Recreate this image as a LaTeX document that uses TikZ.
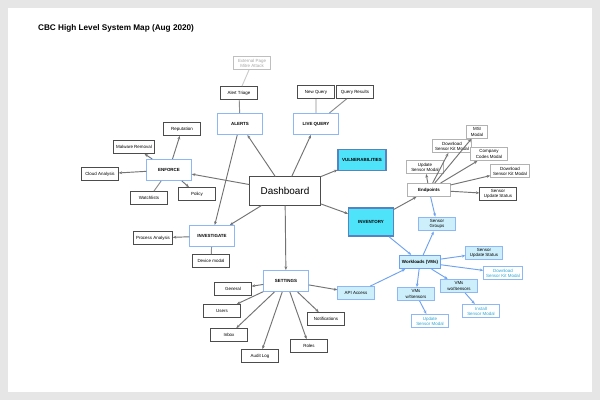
\documentclass[tikz,border=0pt]{standalone}
\usepackage{fontspec}
\setmainfont{Liberation Sans}
\usetikzlibrary{arrows.meta}
\definecolor{frame}{HTML}{E6E6E6}
\definecolor{pale}{HTML}{8EB8F5}
\definecolor{aqua}{HTML}{4FE3FA}
\definecolor{iceblue}{HTML}{CDEFFB}
\definecolor{linkblue}{HTML}{6FA3F0}
\definecolor{textcyan}{HTML}{2CA6D6}
\begin{document}
\begin{tikzpicture}[x=0.3mm,y=-0.3mm,>={Stealth[length=3pt,width=2.4pt]}]
        \tikzstyle{leaf}=[draw=black!70,fill=white,thick,font=\fontsize{3.8}{4.4}\selectfont,align=center,minimum width=31pt,minimum height=11pt,inner sep=2pt]
        \tikzstyle{faded}=[leaf,draw=black!25,text=black!35]
        \tikzstyle{soft}=[leaf,draw=black!30]
        \tikzstyle{section}=[draw=pale,fill=white,thick,font=\fontsize{3.8}{4.5}\selectfont\bfseries,minimum width=38pt,minimum height=18pt]
        \tikzstyle{hot}=[section,draw=linkblue!80!black,fill=aqua,very thick]
        \tikzstyle{ice}=[leaf,draw=pale,fill=iceblue]
        \tikzstyle{cyanleaf}=[leaf,draw=pale,text=textcyan]
        \tikzstyle{edge}=[draw,->,black!55,thick]
        \tikzstyle{blueedge}=[draw,->,linkblue,thick]
        \useasboundingbox (0,0) rectangle (600,400);
        \fill[frame] (0,0) rectangle (600,400);
        \fill[white] (8,8) rectangle (592,392);
        \node[anchor=west,font=\fontsize{7}{8}\selectfont\bfseries] (title) at (34,28) {CBC High Level System Map (Aug 2020)};
        % top branches
        \node [faded] (mitre) at (252,63) {External Page\\Mitre Attack};
        \node [leaf] (triage) at (239,93) {Alert Triage};
        \node [section] (alerts) at (240,124) {ALERTS};
        \node [leaf] (newq) at (316,92) {New Query};
        \node [leaf] (qres) at (355,92) {Query Results};
        \node [section] (liveq) at (316,124) {LIVE QUERY};
        \node [hot] (vuln) at (362,160) {VULNERABILITIES};
        % enforce
        \node [leaf] (reput) at (182,129) {Reputation};
        \node [leaf] (malware) at (134,147) {Malware Removal};
        \node [leaf] (cloud) at (100,174) {Cloud Analysis};
        \node [section] (enforce) at (169,170) {ENFORCE};
        \node [leaf] (watch) at (149,198) {Watchlists};
        \node [leaf] (policy) at (197,194) {Policy};
        \node [draw=black!70,thick,fill=white,font=\fontsize{8.5}{10}\selectfont,minimum width=60pt,minimum height=24pt] (dash) at (285,191) {Dashboard};
        % investigate
        \node [section] (invest) at (212,236) {INVESTIGATE};
        \node [leaf] (process) at (153,238) {Process Analysis};
        \node [leaf] (device) at (211,261) {Device modal};
        % settings
        \node [section] (settings) at (286,281) {SETTINGS};
        \node [leaf] (general) at (233,289) {General};
        \node [leaf] (users) at (222,311) {Users};
        \node [leaf] (inbox) at (229,335) {Inbox};
        \node [leaf] (audit) at (260,356) {Audit Log};
        \node [leaf] (roles) at (309,346) {Roles};
        \node [leaf] (notif) at (326,319) {Notifications};
        \node [ice] (api) at (356,293) {API Access};
        % inventory
        \node [hot,minimum height=24pt] (invent) at (371,222) {INVENTORY};
        \node [soft,font=\fontsize{3.8}{4.5}\selectfont\bfseries,minimum width=36pt] (endp) at (429,190) {Endpoints};
        \node [soft] (updmod) at (425,167) {Update\\Sensor Modal};
        \node [soft] (dlkit) at (452,146) {Download\\Sensor Kit Modal};
        \node [soft,minimum width=18pt] (msi) at (477,132) {MSI\\Modal};
        \node [soft] (codes) at (489,154) {Company\\Codes Modal};
        \node [soft] (dlkitb) at (510,171) {Download\\Sensor Kit Modal};
        \node [leaf] (status) at (498,194) {Sensor\\Update Status};
        \node [ice] (groups) at (437,224) {Sensor\\Groups};
        \node [ice,draw=linkblue,very thick,font=\fontsize{3.8}{4.5}\selectfont\bfseries] (work) at (420,262) {Workloads (VMs)};
        \node [ice] (statusb) at (484,253) {Sensor\\Update Status};
        \node [cyanleaf] (dlkitc) at (503,273) {Download\\Sensor Kit Modal};
        \node [ice] (vmswo) at (459,286) {VMs\\wo/Sensors};
        \node [ice] (vmsw) at (416,294) {VMs\\w/Sensors};
        \node [cyanleaf] (install) at (481,311) {Install\\Sensor Modal};
        \node [cyanleaf] (updmodb) at (430,321) {Update\\Sensor Modal};
        % connectors
        \path[edge] (dash) edge (alerts) edge (liveq) edge (vuln) edge (enforce)
                    edge (invest) edge (invent) edge (settings);
        \path[draw,black!20,thick] (triage) -- (mitre);
        \path[draw,black!45,thick] (alerts) -- (triage) (liveq) -- (newq) (liveq) -- (qres)
                    (enforce) -- (watch) (invest) -- (device);
        \path[edge] (alerts) edge (invest);
        \path[edge] (enforce) edge (reput) edge (malware) edge (cloud) edge (policy);
        \path[edge] (invest) edge (process);
        \path[edge] (settings) edge (general) edge (users) edge (inbox) edge (audit)
                    edge (roles) edge (notif) edge (api);
        \path[edge] (invent) edge (endp);
        \path[edge] (endp) edge (updmod) edge (dlkit) edge (msi) edge (codes) edge (dlkitb) edge (status);
        \path[blueedge] (endp) edge (groups) (invent) edge (work) (api) edge (work)
                    (work) edge (groups) edge (statusb) edge (dlkitc) edge (vmswo) edge (vmsw)
                    (vmsw) edge (updmodb) (vmswo) edge (install);
      \end{tikzpicture}
\end{document}
